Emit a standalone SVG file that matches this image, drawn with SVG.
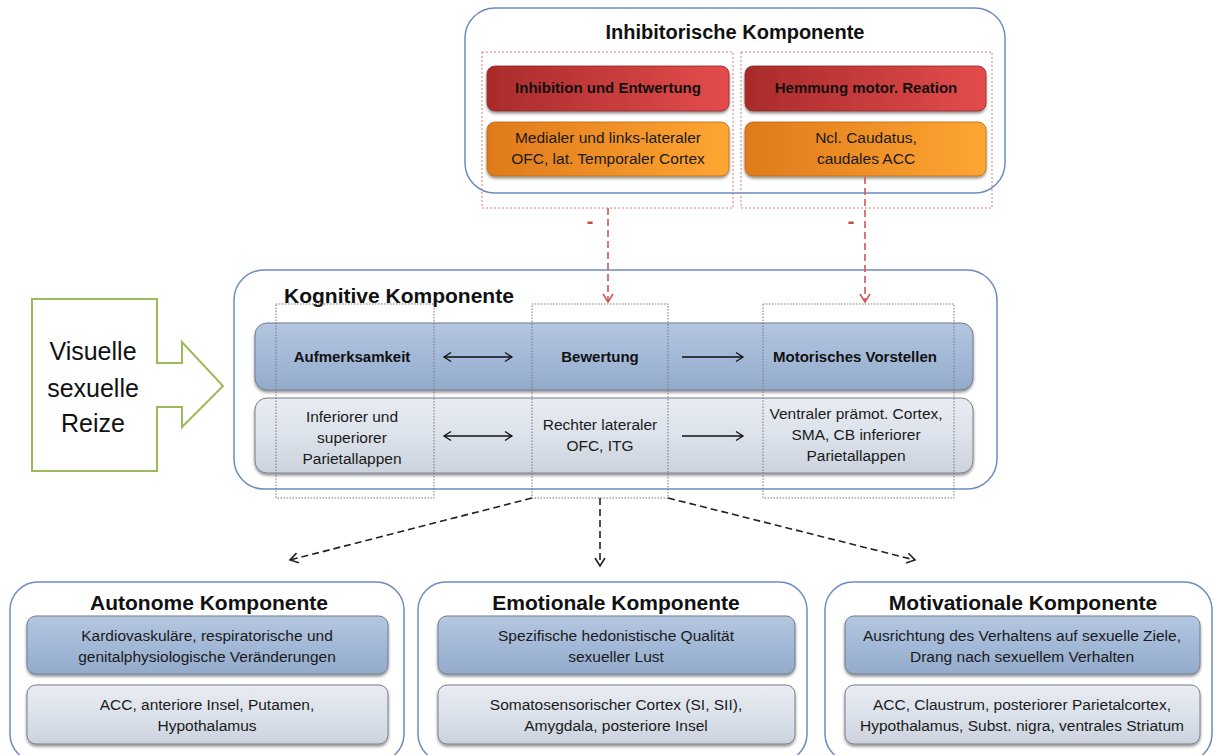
<svg xmlns="http://www.w3.org/2000/svg" width="1215" height="755" viewBox="0 0 1215 755">
<defs>
<style>
.cont{fill:#ffffff;stroke:#6a8cc0;stroke-width:1.5}
.title{font-family:"Liberation Sans",Arial,sans-serif;font-weight:bold;font-size:20px;fill:#111;text-anchor:middle}
.ktitle{font-family:"Liberation Sans",Arial,sans-serif;font-weight:bold;font-size:21px;fill:#111}
.btitle{font-family:"Liberation Sans",Arial,sans-serif;font-weight:bold;font-size:21px;fill:#111;text-anchor:middle}
.lbl{font-family:"Liberation Sans",Arial,sans-serif;font-weight:bold;font-size:15px;fill:#111;text-anchor:middle}
.txt{font-family:"Liberation Sans",Arial,sans-serif;font-size:15.5px;fill:#1a1a1a;text-anchor:middle}
.big{font-family:"Liberation Sans",Arial,sans-serif;font-size:25px;fill:#111;text-anchor:middle}
.red{fill:url(#gRed);stroke:#8a2a2a;stroke-width:0.8}
.org{fill:url(#gOrg);stroke:#b86a18;stroke-width:0.8}
.blue{fill:url(#gBlue);stroke:#6f7d8f;stroke-width:1}
.gray{fill:url(#gGray);stroke:#7a808a;stroke-width:1}
.rdot{fill:none;stroke:#e07a7a;stroke-width:1;stroke-dasharray:2 2}
.gdot{fill:none;stroke:#777;stroke-width:1;stroke-dasharray:1.5 1.5}
.rdash{fill:none;stroke:#d05555;stroke-width:1.6;stroke-dasharray:7 4}
.kdash{fill:none;stroke:#222;stroke-width:1.6;stroke-dasharray:7 4}
.solid{fill:none;stroke:#111;stroke-width:1.3}
.minus{font-family:"Liberation Sans",Arial,sans-serif;font-weight:bold;font-size:20px;fill:#c84848;text-anchor:middle}
</style>
<linearGradient id="gRed" x1="0" y1="0" x2="1" y2="0">
<stop offset="0" stop-color="#a92b2b"/><stop offset="1" stop-color="#e44c4c"/>
</linearGradient>
<linearGradient id="gOrg" x1="0" y1="0" x2="1" y2="0">
<stop offset="0" stop-color="#df7a1c"/><stop offset="1" stop-color="#ffa632"/>
</linearGradient>
<linearGradient id="gBlue" x1="0" y1="0" x2="0" y2="1">
<stop offset="0" stop-color="#b4c7e0"/><stop offset="0.5" stop-color="#a3b9d7"/><stop offset="1" stop-color="#94aacb"/>
</linearGradient>
<linearGradient id="gGray" x1="0" y1="0" x2="0" y2="1">
<stop offset="0" stop-color="#e8ecf2"/><stop offset="0.5" stop-color="#dce2eb"/><stop offset="1" stop-color="#ccd3de"/>
</linearGradient>
<filter id="sh" x="-5%" y="-20%" width="110%" height="150%">
<feDropShadow dx="0" dy="2" stdDeviation="1.5" flood-color="#000" flood-opacity="0.45"/>
</filter>
<marker id="mRed" markerUnits="userSpaceOnUse" markerWidth="14" markerHeight="14" refX="10" refY="6" orient="auto">
<path d="M2,1 L10,6 L2,11" fill="none" stroke="#d05555" stroke-width="1.6"/>
</marker>
<marker id="mBlk" markerUnits="userSpaceOnUse" markerWidth="14" markerHeight="14" refX="10" refY="6" orient="auto">
<path d="M2,1 L10,6 L2,11" fill="none" stroke="#222" stroke-width="1.6"/>
</marker>
<marker id="mSol" markerUnits="userSpaceOnUse" markerWidth="14" markerHeight="14" refX="10" refY="6" orient="auto-start-reverse">
<path d="M3,1.5 L10,6 L3,10.5" fill="none" stroke="#111" stroke-width="1.3"/>
</marker>
</defs>
<rect width="1215" height="755" fill="#ffffff"/>

<g id="inhibitorisch">
<rect class="cont" x="465" y="8" width="540" height="185" rx="30"/>
<text class="title" x="735" y="39">Inhibitorische Komponente</text>
<rect class="rdot" x="482" y="52" width="251" height="156"/>
<rect class="rdot" x="741" y="52" width="251" height="156"/>
<rect class="red" x="487" y="66" width="242" height="45" rx="8" filter="url(#sh)"/>
<text class="lbl" x="608" y="93">Inhibition und Entwertung</text>
<rect class="red" x="745" y="66" width="241" height="45" rx="8" filter="url(#sh)"/>
<text class="lbl" x="866" y="93">Hemmung motor. Reation</text>
<rect class="org" x="487" y="122" width="242" height="54" rx="8" filter="url(#sh)"/>
<text class="txt" x="608" y="143">Medialer und links-lateraler</text>
<text class="txt" x="608" y="164">OFC, lat. Temporaler Cortex</text>
<rect class="org" x="745" y="122" width="241" height="54" rx="8" filter="url(#sh)"/>
<text class="txt" x="866" y="143">Ncl. Caudatus,</text>
<text class="txt" x="866" y="164">caudales ACC</text>
</g>

<g id="reize">
<path d="M32,299 L157,299 L157,363 L182,363 L182,342 L223,386 L182,427 L182,407 L157,407 L157,471 L32,471 Z" fill="#ffffff" stroke="#9bbb59" stroke-width="2"/>
<text class="big" x="93" y="360">Visuelle</text>
<text class="big" x="93" y="397">sexuelle</text>
<text class="big" x="93" y="432">Reize</text>
</g>

<g id="kognitiv">
<rect class="cont" x="234" y="270" width="763" height="219" rx="30"/>
<text class="ktitle" x="284" y="303">Kognitive Komponente</text>
<rect class="blue" x="255" y="323" width="718" height="67" rx="12" filter="url(#sh)"/>
<rect class="gray" x="255" y="398" width="718" height="75" rx="12" filter="url(#sh)"/>
<text class="lbl" x="352" y="362">Aufmerksamkeit</text>
<text class="lbl" x="600" y="362">Bewertung</text>
<text class="lbl" x="855" y="362">Motorisches Vorstellen</text>
<text class="txt" x="352" y="422">Inferiorer und</text>
<text class="txt" x="352" y="443">superiorer</text>
<text class="txt" x="352" y="464">Parietallappen</text>
<text class="txt" x="600" y="430">Rechter lateraler</text>
<text class="txt" x="600" y="451">OFC, ITG</text>
<text class="txt" x="856" y="419">Ventraler prämot. Cortex,</text>
<text class="txt" x="856" y="440">SMA, CB inferiorer</text>
<text class="txt" x="856" y="461">Parietallappen</text>
<rect class="gdot" x="276" y="304" width="158" height="194"/>
<rect class="gdot" x="532" y="304" width="136" height="194"/>
<rect class="gdot" x="763" y="304" width="191" height="194"/>
</g>

<g id="autonom">
<rect class="cont" x="10" y="582" width="394" height="180" rx="28"/>
<text class="btitle" x="209" y="610">Autonome Komponente</text>
<rect class="blue" x="27" y="616" width="361" height="58" rx="9" filter="url(#sh)"/>
<text class="txt" x="207" y="641">Kardiovaskuläre, respiratorische und</text>
<text class="txt" x="207" y="662">genitalphysiologische Veränderungen</text>
<rect class="gray" x="27" y="685" width="361" height="59" rx="9" filter="url(#sh)"/>
<text class="txt" x="207" y="710">ACC, anteriore Insel, Putamen,</text>
<text class="txt" x="207" y="731">Hypothalamus</text>
</g>

<g id="emotional">
<rect class="cont" x="418" y="582" width="389" height="180" rx="28"/>
<text class="btitle" x="616" y="610">Emotionale Komponente</text>
<rect class="blue" x="438" y="616" width="357" height="58" rx="9" filter="url(#sh)"/>
<text class="txt" x="616" y="641">Spezifische hedonistische Qualität</text>
<text class="txt" x="616" y="662">sexueller Lust</text>
<rect class="gray" x="438" y="685" width="357" height="59" rx="9" filter="url(#sh)"/>
<text class="txt" x="616" y="710">Somatosensorischer Cortex (SI, SII),</text>
<text class="txt" x="616" y="731">Amygdala, posteriore Insel</text>
</g>

<g id="motivational">
<rect class="cont" x="825" y="582" width="387" height="180" rx="28"/>
<text class="btitle" x="1023" y="610">Motivationale Komponente</text>
<rect class="blue" x="845" y="616" width="355" height="58" rx="9" filter="url(#sh)"/>
<text class="txt" x="1022" y="641">Ausrichtung des Verhaltens auf sexuelle Ziele,</text>
<text class="txt" x="1022" y="662">Drang nach sexuellem Verhalten</text>
<rect class="gray" x="845" y="685" width="355" height="59" rx="9" filter="url(#sh)"/>
<text class="txt" x="1022" y="710">ACC, Claustrum, posteriorer Parietalcortex,</text>
<text class="txt" x="1022" y="731">Hypothalamus, Subst. nigra, ventrales Striatum</text>
</g>

<g id="connectors">
<path class="rdash" d="M608,208 L608,302" marker-end="url(#mRed)"/>
<path class="rdash" d="M865,177 L865,302" marker-end="url(#mRed)"/>
<text class="minus" x="590" y="228">-</text>
<text class="minus" x="851" y="228">-</text>
<path class="kdash" d="M532,498 L290,560" marker-end="url(#mBlk)"/>
<path class="kdash" d="M600,498 L600,566" marker-end="url(#mBlk)"/>
<path class="kdash" d="M668,498 L915,560" marker-end="url(#mBlk)"/>
<path class="solid" d="M444,357 L512,357" marker-start="url(#mSol)" marker-end="url(#mSol)"/>
<path class="solid" d="M682,357 L743,357" marker-end="url(#mSol)"/>
<path class="solid" d="M444,436 L512,436" marker-start="url(#mSol)" marker-end="url(#mSol)"/>
<path class="solid" d="M682,436 L743,436" marker-end="url(#mSol)"/>
</g>
</svg>
